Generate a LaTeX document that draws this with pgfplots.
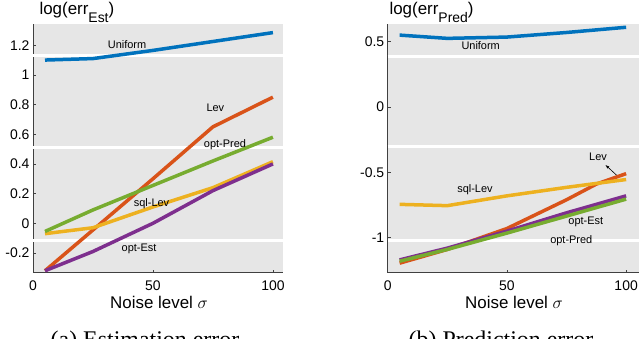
\documentclass[border=0pt]{standalone}
\usepackage{pgfplots}
\pgfplotsset{compat=1.18}
\usepackage{fontspec}
\setmainfont{Liberation Sans}
\newfontfamily\capfont{Liberation Serif}
\usetikzlibrary{arrows.meta}
\definecolor{bgray}{HTML}{E6E6E6}
\definecolor{axgray}{HTML}{404040}
\definecolor{mblue}{HTML}{0072BD}
\definecolor{morange}{HTML}{D95319}
\definecolor{myellow}{HTML}{EDB120}
\definecolor{mpurple}{HTML}{7E2F8E}
\definecolor{mgreen}{HTML}{77AC30}

\tikzset{lbl/.style={font=\fontsize{11}{11}\selectfont, text=black}}
\pgfplotsset{
  errax/.style={
    scale only axis, height=248.7bp,
    axis background/.style={fill=bgray},
    axis x line*=bottom, axis y line*=left,
    axis line style={draw=axgray, line width=0.8bp},
    tick align=inside, major tick length=3bp,
    tick style={draw=axgray, line width=0.6bp},
    ticklabel style={font=\fontsize{14}{14}\selectfont, text=black},
    xticklabel style={yshift=-5bp},
    xmin=0, xtick={0,50,100}, xticklabels={0,50,100},
    every axis plot/.append style={line width=3.5bp},
    clip=false,
  },
}

\begin{document}
\begin{tikzpicture}
% (a) estimation error
\begin{axis}[errax, at={(33bp,66.3bp)}, anchor=south west, width=250bp,
  xmax=104.2, ymin=-0.333, ymax=1.343,
  ytick={-0.2,0,0.2,0.4,0.6,0.8,1,1.2},
  yticklabels={-0.2,0,0.2,0.4,0.6,0.8,1,1.2}]
\addplot[white, line width=3bp, forget plot] coordinates {(0,1.128)(104.2,1.128)};
\addplot[white, line width=3bp, forget plot] coordinates {(0,0.509)(104.2,0.509)};
\addplot[white, line width=3bp, forget plot] coordinates {(0,-0.117)(104.2,-0.117)};
\addplot[mblue] coordinates {(5,1.10)(25,1.11)(50,1.165)(75,1.225)(100,1.285)};
\addplot[morange] coordinates {(5,-0.32)(25,-0.045)(50,0.30)(75,0.65)(100,0.85)};
\addplot[myellow] coordinates {(5,-0.07)(25,-0.03)(50,0.11)(75,0.24)(100,0.415)};
\addplot[mpurple] coordinates {(5,-0.32)(25,-0.19)(50,0.0)(75,0.22)(100,0.40)};
\addplot[mgreen] coordinates {(5,-0.055)(25,0.09)(50,0.255)(75,0.42)(100,0.58)};
\node[lbl] at (axis cs:39.2,1.202) {Uniform};
\node[lbl] at (axis cs:76,0.778) {Lev};
\node[lbl] at (axis cs:80,0.529) {opt-Pred};
\node[lbl] at (axis cs:49.4,0.130) {sql-Lev};
\node[lbl] at (axis cs:44.2,-0.173) {opt-Est};
\end{axis}
% (b) prediction error
\begin{axis}[errax, at={(387.7bp,66.3bp)}, anchor=south west, width=251.3bp,
  xmax=105.4, ymin=-1.268, ymax=0.635,
  ytick={-1,-0.5,0,0.5}, yticklabels={-1,-0.5,0,0.5}]
\addplot[white, line width=3bp, forget plot] coordinates {(0,0.39)(105.4,0.39)};
\addplot[white, line width=3bp, forget plot] coordinates {(0,-0.306)(105.4,-0.306)};
\addplot[white, line width=3bp, forget plot] coordinates {(0,-1.025)(105.4,-1.025)};
\addplot[mblue] coordinates {(5,0.55)(25,0.525)(50,0.535)(75,0.57)(100,0.61)};
\addplot[morange] coordinates {(5,-1.195)(25,-1.09)(50,-0.93)(62.5,-0.82)(75,-0.71)(87.5,-0.59)(100,-0.51)};
\addplot[myellow] coordinates {(5,-0.745)(25,-0.755)(50,-0.68)(75,-0.615)(100,-0.555)};
\addplot[mpurple] coordinates {(5,-1.17)(25,-1.08)(50,-0.95)(75,-0.81)(100,-0.68)};
\addplot[mgreen] coordinates {(5,-1.18)(25,-1.09)(50,-0.965)(75,-0.835)(100,-0.705)};
\node[lbl] at (axis cs:39,0.469) {Uniform};
\node[lbl] at (axis cs:88.2,-0.38) {Lev};
\draw[-{Latex[length=4bp,width=3bp]}, line width=0.6bp] (axis cs:95.9,-0.520) -- (axis cs:91.3,-0.443);
\node[lbl] at (axis cs:36.6,-0.635) {sql-Lev};
\node[lbl] at (axis cs:83.1,-0.877) {opt-Est};
\node[lbl] at (axis cs:77,-1.025) {opt-Pred};
\end{axis}
% axis titles and labels
\node[anchor=base west, font=\fontsize{17}{17}\selectfont] at (36bp,324bp)
  {log(err\raisebox{-8bp}{\fontsize{14}{14}\selectfont Est})};
\node[anchor=base west, font=\fontsize{17}{17}\selectfont] at (386bp,324bp)
  {log(err\raisebox{-8bp}{\fontsize{14}{14}\selectfont Pred})};
\node[anchor=base, font=\fontsize{17}{17}\selectfont] at (159bp,30.5bp) {Noise level $\sigma$};
\node[anchor=base, font=\fontsize{17}{17}\selectfont] at (514bp,30.5bp) {Noise level $\sigma$};
\node[anchor=base, font=\capfont\fontsize{24}{24}\selectfont] at (145bp,-8bp) {(a) Estimation error};
\node[anchor=base, font=\capfont\fontsize{24}{24}\selectfont] at (501bp,-8bp) {(b) Prediction error};
\pgfresetboundingbox
\path[use as bounding box] (0,0) rectangle (640bp,339bp);
\end{tikzpicture}
\end{document}
